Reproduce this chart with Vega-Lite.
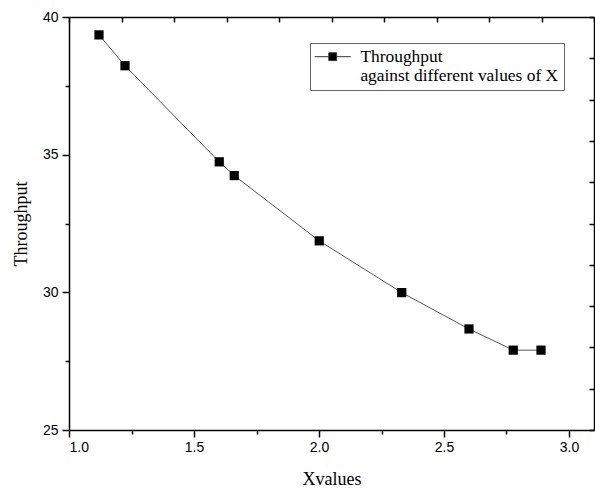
{
  "$schema": "https://vega.github.io/schema/vega-lite/v6.json",
  "width": 525,
  "height": 413,
  "autosize": {"type": "none"},
  "padding": {"left": 69, "top": 17, "right": 1, "bottom": 59},
  "background": "white",
  "config": {
    "view": {"stroke": null},
    "axis": {
      "labelFont": "Liberation Sans",
      "labelFontSize": 14,
      "labelColor": "black",
      "titleFont": "Liberation Serif",
      "titleFontSize": 18,
      "titleFontWeight": "normal",
      "titleColor": "black",
      "domainColor": "black",
      "domainWidth": 1.5,
      "tickColor": "black",
      "tickWidth": 1.5,
      "ticks": true,
      "grid": false
    }
  },
  "layer": [
    {
      "data": {
        "values": [
          {"x": 1.12, "y": 39.35, "series": "Throughput"},
          {"x": 1.224, "y": 38.23, "series": "Throughput"},
          {"x": 1.601, "y": 34.74, "series": "Throughput"},
          {"x": 1.661, "y": 34.24, "series": "Throughput"},
          {"x": 2.001, "y": 31.87, "series": "Throughput"},
          {"x": 2.331, "y": 29.99, "series": "Throughput"},
          {"x": 2.6, "y": 28.67, "series": "Throughput"},
          {"x": 2.777, "y": 27.9, "series": "Throughput"},
          {"x": 2.888, "y": 27.9, "series": "Throughput"}
        ]
      },
      "encoding": {
        "x": {
          "field": "x",
          "type": "quantitative",
          "scale": {"domain": [1, 3.1], "nice": false, "zero": false},
          "axis": {
            "title": "Xvalues",
            "values": [1, 1.5, 2, 2.5, 3],
            "format": ".1f",
            "ticks": true,
            "tickSize": 7,
            "labelPadding": 3,
            "titlePadding": 16
          }
        },
        "y": {
          "field": "y",
          "type": "quantitative",
          "scale": {"domain": [25, 40], "nice": false, "zero": false},
          "axis": {
            "title": "Throughput",
            "values": [25, 30, 35, 40],
            "format": "d",
            "ticks": true,
            "tickSize": 7,
            "labelPadding": 4,
            "titlePadding": 12
          }
        }
      },
      "layer": [
        {
          "mark": {"type": "line", "color": "#555555", "strokeWidth": 1}
        },
        {
          "mark": {"type": "point", "shape": "square", "filled": true, "size": 85, "opacity": 1},
          "encoding": {
            "color": {
              "field": "series",
              "type": "nominal",
              "scale": {"range": ["black"]},
              "legend": {
                "title": null,
                "orient": "none",
                "legendX": 241,
                "legendY": 26,
                "padding": 5,
                "strokeColor": "#666666",
                "fillColor": "white",
                "labelFont": "Liberation Serif",
                "labelFontSize": 17.4,
                "labelColor": "black",
                "labelLimit": 400,
                "labelOffset": 19,
                "labelLineHeight": 22,
                "labelBaseline": "middle",
                "labelExpr": "['Throughput', 'against different values of X']",
                "symbolType": "M-3,0H-0.65M0.65,0H3M-0.65,-0.65H0.65V0.65H-0.65Z",
                "symbolSize": 144,
                "symbolOffset": 9,
                "symbolStrokeWidth": 1,
                "symbolStrokeColor": "#333333",
                "symbolFillColor": "black"
              }
            }
          }
        }
      ]
    },
    {
      "data": {"values": [{"t": 1, "u": 25}, {"t": 3.1, "u": 40}]},
      "mark": {"type": "point", "opacity": 0},
      "encoding": {
        "x": {
          "field": "t",
          "type": "quantitative",
          "scale": {"domain": [1, 3.1], "nice": false, "zero": false},
          "axis": {"orient": "bottom", "title": null, "labels": false, "domain": false, "values": [1.25, 1.75, 2.25, 2.75], "tickSize": 4}
        },
        "y": {
          "field": "u",
          "type": "quantitative",
          "scale": {"domain": [25, 40], "nice": false, "zero": false},
          "axis": {"orient": "left", "title": null, "labels": false, "domain": false, "values": [27.5, 32.5, 37.5], "tickSize": 4}
        }
      }
    },
    {
      "data": {"values": [{"t": 0, "u": 0}, {"t": 10, "u": 10}]},
      "mark": {"type": "point", "opacity": 0},
      "encoding": {
        "x": {
          "field": "t",
          "type": "quantitative",
          "scale": {"domain": [0, 10], "nice": false},
          "axis": {"orient": "top", "title": null, "labels": false, "values": [0,1,2,3,4,5,6,7,8,9,10], "tickSize": -5}
        },
        "y": {
          "field": "u",
          "type": "quantitative",
          "scale": {"domain": [0, 10], "nice": false},
          "axis": {"orient": "right", "title": null, "labels": false, "values": [0,1,2,3,4,5,6,7,8,9,10], "tickSize": -5}
        }
      }
    }
  ],
  "resolve": {"scale": {"x": "independent", "y": "independent"}, "axis": {"x": "independent", "y": "independent"}}
}
